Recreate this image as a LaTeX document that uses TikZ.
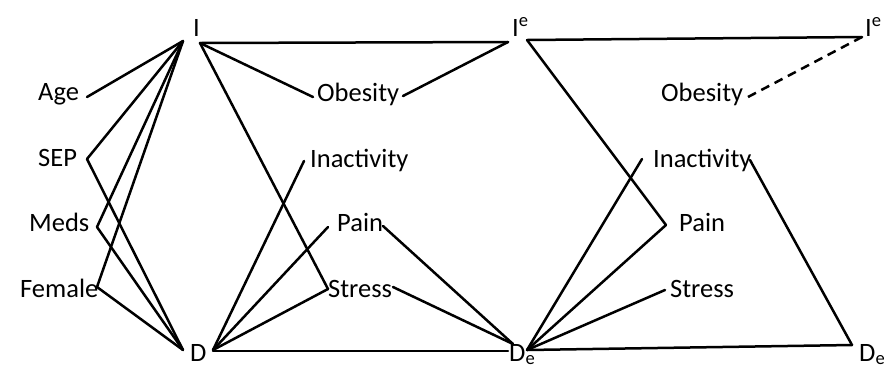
\documentclass[tikz,border=0pt]{standalone}
\usepackage{fontspec}
\setmainfont{Carlito}
\begin{document}
\begin{tikzpicture}[x=1pt,y=-1pt,
  lbl/.style={anchor=base west,inner sep=0pt,font=\fontsize{26.5}{31}\selectfont},
  edge/.style={line width=2.5pt,line cap=round,line join=round},
  dashedge/.style={edge,line cap=butt,dash pattern=on 9pt off 6pt}]
\useasboundingbox (0,0) rectangle (884,368);
% text nodes
\node[lbl] (tI) at (193,36) {I};
\node[lbl] (tAge) at (38,100) {Age};
\node[lbl] (tSEP) at (38,166) {SEP};
\node[lbl] (tMeds) at (29,231) {Meds};
\node[lbl] (tFemale) at (20,297) {Female};
\node[lbl] (tD) at (190,361) {D};
\node[lbl] (tOb) at (317,101) {Obesity};
\node[lbl] (tIn) at (310,167) {Inactivity};
\node[lbl] (tPa) at (337,231) {Pain};
\node[lbl] (tSt) at (328,297) {Stress};
\node[lbl] (tIe) at (512,36) {I\textsuperscript{e}};
\node[lbl] (tDe) at (509,361) {D\textsubscript{e}};
\node[lbl] (tOb2) at (661,101) {Obesity};
\node[lbl] (tIn2) at (653,167) {Inactivity};
\node[lbl] (tPa2) at (679,231) {Pain};
\node[lbl] (tSt2) at (670,297) {Stress};
\node[lbl] (tIe2) at (865,36) {I\textsuperscript{e}};
\node[lbl] (tDe2) at (859,361) {D\textsubscript{e}};
% connector end points
\coordinate (IL) at (183,41);
\coordinate (IR) at (200,43);
\coordinate (AgeR) at (87,97);
\coordinate (SEPR) at (87,159);
\coordinate (MedsR) at (97,227);
\coordinate (FemR) at (97,287);
\coordinate (DL) at (183,350);
\coordinate (DR) at (213,350);
\coordinate (ObL) at (313,97);
\coordinate (ObR) at (403,96);
\coordinate (IeL) at (508,42);
\coordinate (InL) at (304,161);
\coordinate (PaL) at (328,227);
\coordinate (PaR) at (383,226);
\coordinate (StL) at (328,289);
\coordinate (StR) at (393,287);
\coordinate (DeL) at (513,344);
\coordinate (DeLh) at (508,351);
\coordinate (IeR) at (527,40);
\coordinate (DeR) at (527,350);
\coordinate (Ie2L) at (862,37);
\coordinate (Ob2R) at (748,97);
\coordinate (In2L) at (642,159);
\coordinate (In2R) at (750,160);
\coordinate (Pa2L) at (666,225);
\coordinate (St2L) at (665,290);
\coordinate (De2L) at (852,345);
% left block
\draw[edge] (AgeR) -- (IL);
\draw[edge] (SEPR) -- (IL);
\draw[edge] (SEPR) -- (DL);
\draw[edge] (MedsR) -- (IL);
\draw[edge] (MedsR) -- (DL);
\draw[edge] (FemR) -- (IL);
\draw[edge] (FemR) -- (DL);
% middle block
\draw[edge] (IR) -- (IeL);
\draw[edge] (IR) -- (ObL);
\draw[edge] (IR) -- (StL);
\draw[edge] (DR) -- (InL);
\draw[edge] (DR) -- (PaL);
\draw[edge] (DR) -- (StL);
\draw[edge] (DR |- DeLh) -- (DeLh);
\draw[edge] (ObR) -- (IeL);
\draw[edge] (PaR) -- (DeL);
\draw[edge] (StR) -- (DeL);
% right block
\draw[edge] (IeR) -- (Ie2L);
\draw[edge] (IeR) -- (Pa2L);
\draw[edge] (DeR) -- (In2L);
\draw[edge] (DeR) -- (Pa2L);
\draw[edge] (DeR) -- (St2L);
\draw[edge] (DeR) -- (De2L);
\draw[dashedge] (Ob2R) -- (Ie2L);
\draw[edge] (In2R) -- (De2L);
\end{tikzpicture}
\end{document}
